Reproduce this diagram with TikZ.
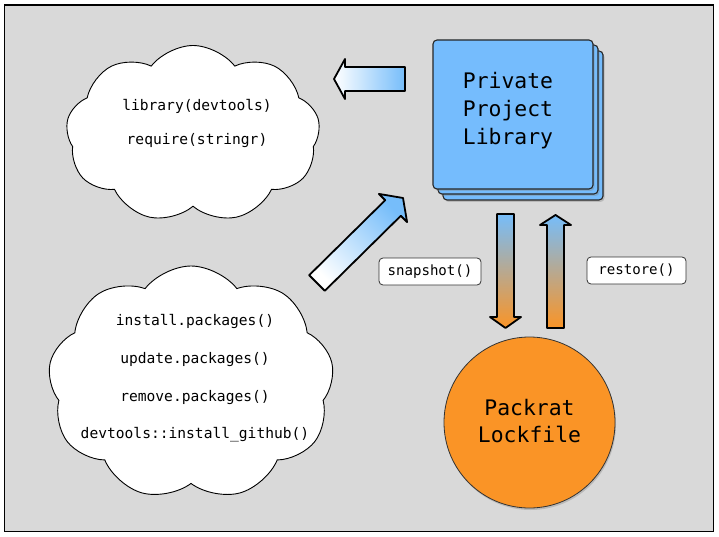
\documentclass[tikz,border=0pt]{standalone}
\usepackage{fontspec}
\usetikzlibrary{shapes.symbols,shadows}
\newfontfamily\monof{DejaVu Sans Mono}
\definecolor{bg}{RGB}{217,217,217}
\definecolor{libblue}{RGB}{117,188,253}
\definecolor{arrblue}{RGB}{118,189,250}
\definecolor{lockorange}{RGB}{250,148,38}
\begin{document}
\begin{tikzpicture}[x=1pt,y=-1pt,
  cloudbox/.style={cloud, cloud puffs=9, cloud puff arc=105, draw=black, line width=0.9pt, fill=white, inner sep=0pt},
  codetext/.style={font=\monof\fontsize{14.6}{17}\selectfont, inner sep=0pt, anchor=base},
  bigtext/.style={font=\monof\fontsize{21.4}{28}\selectfont, align=center, inner sep=0pt},
  card/.style={draw=black!85, line width=1.1pt, fill=libblue, rounded corners=4pt, drop shadow={opacity=0.35, shadow xshift=1.5pt, shadow yshift=-2pt}},
  blockarrow/.style={draw=black, line width=1.8pt, line join=round},
  tag/.style={draw=black!80, line width=0.8pt, fill=white, rounded corners=4pt, inner sep=0pt, font=\monof\fontsize{14.1}{17}\selectfont}
]
\useasboundingbox (0,0) rectangle (719,537);
% background
\draw[fill=bg, line width=1.5pt] (4.5,5) rectangle (713.5,531.5);

% clouds
\node[cloudbox, minimum width=254pt, minimum height=177pt] (cloudA) at (193,134) {};
\node[codetext] (tA1) at (197,111) {library(devtools)};
\node[codetext] (tA2) at (197,145) {require(stringr)};

\node[cloudbox, minimum width=286pt, minimum height=234pt] (cloudB) at (191,383) {};
\node[codetext] (tB1) at (195,325) {install.packages()};
\node[codetext] (tB2) at (195,363) {update.packages()};
\node[codetext] (tB3) at (195,401) {remove.packages()};
\node[codetext] (tB4) at (195,438) {devtools::install\_github()};

% library stack
\draw[card] (443,51) rectangle (603,200);
\draw[card] (438,45) rectangle (598,194);
\draw[card] (433,40) rectangle (593,189);
\coordinate (lib) at (513,114.5);
\node[bigtext] (libtext) at (508,110.5) {Private\\Project\\Library};

% lockfile
\node[circle, minimum size=171pt, inner sep=0pt, fill=lockorange, draw=black!80, line width=0.8pt,
  drop shadow={opacity=0.35, shadow xshift=1pt, shadow yshift=-2pt}] (lock) at (529.5,422.5) {};
\node[bigtext, font=\monof\fontsize{21.4}{27}\selectfont] (locktext) at (529.5,421.5) {Packrat\\Lockfile};

% left arrow (library -> cloud A)
\path[blockarrow, left color=white, right color=arrblue]
  (405,67) -- (345,67) -- (345,59) -- (334,79) -- (345,99) -- (345,91) -- (405,91) -- cycle;

% diagonal arrow (cloud B -> library)
\path[blockarrow, top color=arrblue, bottom color=white, shading angle=-45]
  (309.2,275.2) -- (385.2,200.2) -- (378.9,193.9) -- (403,198) -- (407.1,222.1) -- (400.8,215.8) -- (324.8,290.8) -- cycle;

% snapshot arrow (down)
\path[blockarrow, top color=arrblue, bottom color=lockorange]
  (497,214) -- (514,214) -- (514,317) -- (521,317) -- (505.5,328) -- (490,317) -- (497,317) -- cycle;

% restore arrow (up)
\path[blockarrow, top color=arrblue, bottom color=lockorange]
  (547,328) -- (547,225) -- (540,225) -- (555.5,215) -- (571,225) -- (564,225) -- (564,328) -- cycle;

% labels
\node[tag, minimum width=102pt, minimum height=27pt] (snap) at (430,271.5) {snapshot()};
\node[tag, minimum width=99pt, minimum height=27pt] (rest) at (636.5,270.5) {restore()};
\end{tikzpicture}
\end{document}
